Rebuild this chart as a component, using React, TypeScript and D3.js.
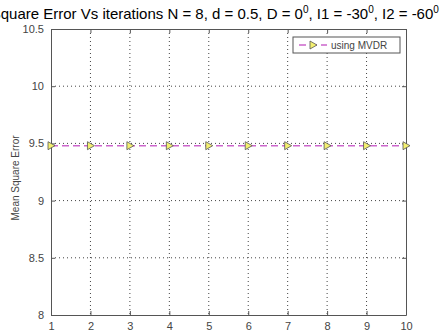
import React, { useEffect, useRef } from 'react';
import * as d3 from 'd3';

const iterations = [1, 2, 3, 4, 5, 6, 7, 8, 9, 10];
const mseMvdr = [9.48, 9.48, 9.48, 9.48, 9.48, 9.48, 9.48, 9.48, 9.48, 9.48];
const yTicks = [8, 8.5, 9, 9.5, 10, 10.5];
const yTickLabels = ['8', '8.5', '9', '9.5', '10', '10.5'];
const seriesName = 'using MVDR';

const App: React.FC = () => {
  const svgRef = useRef<SVGSVGElement>(null);
  const width = 447;
  const height = 333;

  useEffect(() => {
    if (!svgRef.current) return;
    const svg = d3.select(svgRef.current);
    svg.selectAll('*').remove();

    const margin = { top: 29, right: 41, bottom: 18, left: 51 };
    const iW = width - margin.left - margin.right;
    const iH = height - margin.top - margin.bottom;
    const font = "'Liberation Sans', Arial, sans-serif";
    const colors = {
      text: '#444',
      axis: '#555',
      grid: '#444',
      line: '#cc66cc',
      markerFill: '#f4f070',
      markerStroke: '#555'
    };

    svg.append('rect').attr('width', width).attr('height', height).attr('fill', '#fff');

    const x = d3.scaleLinear().domain([1, 10]).range([0, iW]);
    const y = d3.scaleLinear().domain([8, 10.5]).range([iH, 0]);

    const g = svg.append('g').attr('transform', `translate(${margin.left},${margin.top})`);

    // dotted grid
    g.append('g').selectAll('line').data(iterations.slice(1, -1)).enter().append('line')
      .attr('x1', d => x(d)).attr('x2', d => x(d)).attr('y1', 0).attr('y2', iH)
      .attr('stroke', colors.grid).attr('stroke-width', 1).attr('stroke-dasharray', '1,3');
    g.append('g').selectAll('line').data(yTicks.slice(1, -1)).enter().append('line')
      .attr('y1', d => y(d)).attr('y2', d => y(d)).attr('x1', 0).attr('x2', iW)
      .attr('stroke', colors.grid).attr('stroke-width', 1).attr('stroke-dasharray', '1,3');

    // axes (inward ticks, box)
    const xAxis = g.append('g').attr('transform', `translate(0,${iH})`)
      .call(d3.axisBottom(x).tickValues(iterations).tickSize(-4).tickPadding(7).tickSizeOuter(0).tickFormat(d3.format('d')));
    const xTop = g.append('g').call(d3.axisTop(x).tickValues(iterations).tickSize(-4).tickSizeOuter(0).tickFormat(() => ''));
    const yAxis = g.append('g')
      .call(d3.axisLeft(y).tickValues(yTicks).tickSize(-4).tickPadding(7).tickSizeOuter(0).tickFormat((_, i) => yTickLabels[i]));
    const yRight = g.append('g').attr('transform', `translate(${iW},0)`)
      .call(d3.axisRight(y).tickValues(yTicks).tickSize(-4).tickSizeOuter(0).tickFormat(() => ''));
    [xAxis, xTop, yAxis, yRight].forEach(a => {
      a.selectAll('path').attr('stroke', colors.axis);
      a.selectAll('line').attr('stroke', colors.axis);
      a.selectAll('text').attr('fill', colors.text).style('font-family', font).style('font-size', '11px');
    });

    // series
    const line = d3.line<number>().x((_, i) => x(iterations[i])).y(d => y(d));
    g.append('path').datum(mseMvdr).attr('d', line).attr('fill', 'none')
      .attr('stroke', colors.line).attr('stroke-width', 1.4).attr('stroke-dasharray', '7,4');

    const tri = 'M-3,-4L4,0L-3,4Z';
    g.append('g').selectAll('path').data(mseMvdr).enter().append('path')
      .attr('d', tri)
      .attr('transform', (d, i) => `translate(${x(iterations[i])},${y(d)})`)
      .attr('fill', colors.markerFill).attr('stroke', colors.markerStroke).attr('stroke-width', 0.8);

    // title (wider than the figure, clipped at both sides as in the original)
    svg.append('text')
      .attr('x', -51).attr('y', 19)
      .attr('fill', '#000')
      .style('font-family', font).style('font-size', '15px')
      .html('Mean Square Error Vs iterations N = 8, d = 0.5, D = 0<tspan dy="-6" font-size="10">0</tspan><tspan dy="6">, I1 = -30</tspan><tspan dy="-6" font-size="10">0</tspan><tspan dy="6">, I2 = -60</tspan><tspan dy="-6" font-size="10">0</tspan>');

    // y label
    svg.append('text')
      .attr('transform', `translate(19,${margin.top + iH / 2 + 6}) rotate(-90)`)
      .attr('text-anchor', 'middle').attr('fill', colors.text)
      .style('font-family', font).style('font-size', '10px')
      .text('Mean Square Error');

    // legend
    const lg = svg.append('g').attr('transform', 'translate(293,37)');
    lg.append('rect').attr('width', 107).attr('height', 16)
      .attr('fill', '#fff').attr('stroke', colors.axis).attr('stroke-width', 1);
    lg.append('line').attr('x1', 6).attr('x2', 34).attr('y1', 8).attr('y2', 8)
      .attr('stroke', colors.line).attr('stroke-width', 1.4).attr('stroke-dasharray', '7,4');
    lg.append('path').attr('d', tri).attr('transform', 'translate(20,8)')
      .attr('fill', colors.markerFill).attr('stroke', colors.markerStroke).attr('stroke-width', 0.8);
    lg.append('text').attr('x', 38).attr('y', 12).attr('fill', colors.text)
      .style('font-family', font).style('font-size', '10px').text(seriesName);
  }, []);

  return (
    <svg ref={svgRef} width={width} height={height}
      style={{ position: 'fixed', left: 0, top: 0, display: 'block' }} />
  );
};

export default App;
